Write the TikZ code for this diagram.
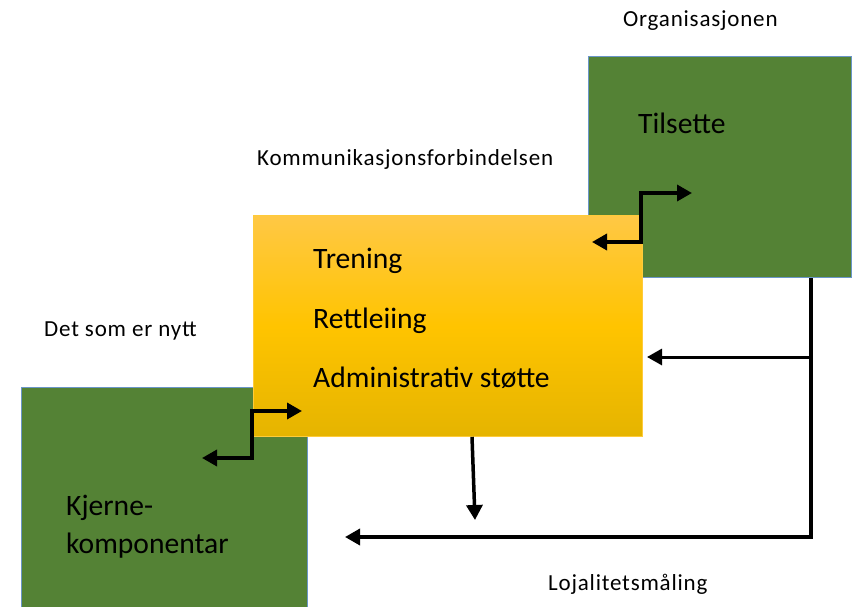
\documentclass[tikz,border=0pt]{standalone}
\usepackage{fontspec}
\setmainfont{Carlito}
\newfontfamily\labelfont[LetterSpace=3.5]{Carlito}
\usetikzlibrary{arrows.meta}
\definecolor{boxgreen}{HTML}{548235}
\definecolor{boxedge}{HTML}{6A96C8}
\definecolor{ytop}{HTML}{FFC845}
\definecolor{ymid}{HTML}{FFC400}
\definecolor{ybot}{HTML}{E5B400}
\definecolor{yedge}{HTML}{FFCB3A}
\tikzset{
  greenbox/.style={draw=boxedge, line width=1pt, fill=boxgreen, inner sep=0pt, anchor=north west},
  yellowbox/.style={draw=yedge, line width=0.8pt, top color=ytop, bottom color=ybot, middle color=ymid, inner sep=0pt, anchor=north west},
  smalltext/.style={font=\labelfont\fontsize{23}{27}\selectfont, anchor=base west, inner sep=0pt},
  bigtext/.style={font=\fontsize{29.6}{35}\selectfont, anchor=base west, inner sep=0pt},
  conn/.style={line width=3.5pt, draw=black, -{Triangle[length=15pt,width=16pt]}},
  dconn/.style={line width=3.5pt, draw=black, {Triangle[length=15pt,width=16pt]}-{Triangle[length=15pt,width=16pt]}}
}
\begin{document}
\begin{tikzpicture}[x=1pt, y=-1pt]
\clip (0,0) rectangle (852,606);
\fill[white] (0,0) rectangle (852,606);
% boxes
\node[greenbox, minimum width=263pt, minimum height=221pt] (org) at (588,56) {};
\node[greenbox, minimum width=286pt, minimum height=240pt] (kjerne) at (21,387) {};
\node[yellowbox, minimum width=389pt, minimum height=221pt] (komm) at (253,215) {};
% texts
\node[smalltext] (t1) at (623,26) {Organisasjonen};
\node[smalltext] (t2) at (257,165) {Kommunikasjonsforbindelsen};
\node[smalltext] (t3) at (44,336) {Det som er nytt};
\node[smalltext] (t4) at (548,590) {Lojalitetsmåling};
\node[bigtext] (t5) at (638,133) {Tilsette};
\node[bigtext] (t6) at (313,268) {Trening};
\node[bigtext] (t7) at (313,328) {Rettleiing};
\node[bigtext] (t8) at (313,387) {Administrativ støtte};
\node[bigtext] (t9) at (66,515) {Kjerne-};
\node[bigtext] (t10) at (66,553) {komponentar};
% connector points
\coordinate (p1a) at (592,242);
\coordinate (p1b) at (692,193);
\coordinate (p2a) at (202,458);
\coordinate (p2b) at (302,411);
\coordinate (p3a) at (org.south -| 811,0);
\coordinate (p3b) at (811,537);
\coordinate (p3c) at (345,537);
\coordinate (p4a) at (811,357);
\coordinate (p4b) at (647,357);
\coordinate (p5a) at (komm.south -| 472,0);
\coordinate (p5b) at (475,520);
% connectors
\draw[dconn] (p1a) -- (641,242) -- (641,193) -- (p1b);
\draw[dconn] (p2a) -- (252,458) -- (252,411) -- (p2b);
\draw[conn, line join=miter] (p3a) -- (p3b) -- (p3c);
\draw[conn, line width=3pt] (p4a) -- (p4b);
\draw[conn] (p5a) -- (p5b);
\end{tikzpicture}
\end{document}
